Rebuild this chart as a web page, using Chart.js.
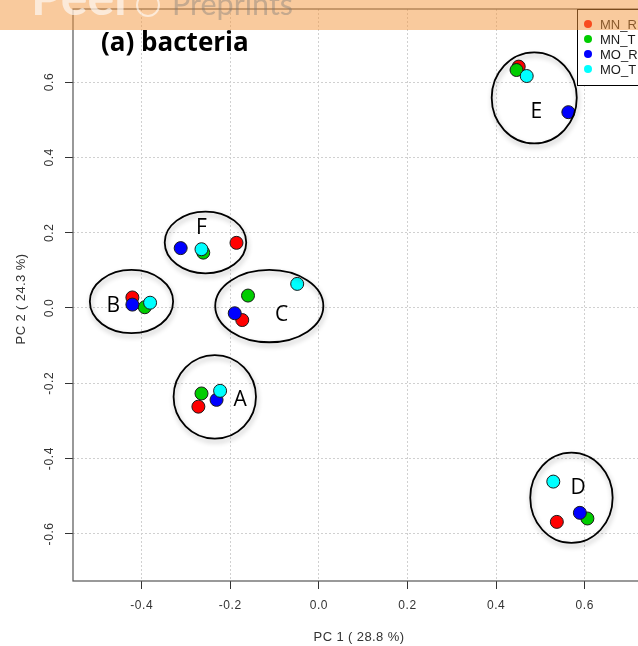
<!DOCTYPE html>
<html>
<head>
<meta charset="utf-8">
<script src="https://cdn.jsdelivr.net/npm/chart.js@4.4.1/dist/chart.umd.min.js"></script>
<style>
  html, body { margin: 0; padding: 0; background: #fff; overflow: hidden; width: 638px; height: 646px; }
  #wrap { position: relative; width: 638px; height: 646px; overflow: hidden; }
  #pca { position: absolute; left: 0; top: 0; }
  #banner { position: absolute; left: 0; top: 0; z-index: 2; }
</style>
</head>
<body>
<div id="wrap">
  <canvas id="pca" width="660" height="646"></canvas>
  <svg id="banner" width="638" height="30" xmlns="http://www.w3.org/2000/svg">
    <rect x="0" y="0" width="638" height="30" fill="rgba(244,150,60,0.5)"/>
    <text x="31" y="15" font-family="Lato, sans-serif" font-weight="700" font-size="50" fill="rgba(255,255,255,0.62)">Peer</text>
    <circle cx="148" cy="5" r="11" fill="none" stroke="rgba(255,255,255,0.6)" stroke-width="2"/>
    <text x="172" y="15" font-family="Lato, sans-serif" font-weight="400" font-size="30.5" fill="rgba(120,120,120,0.4)">Preprints</text>
  </svg>
</div>
<script>
// Sample groups (one point per series in each group)
const groups = ['A', 'B', 'C', 'D', 'E', 'F'];
const seriesNames = ['MN_R', 'MN_T', 'MO_R', 'MO_T'];

// PC1 / PC2 scores, ordered as in `groups`
const pc1_MN_R = [-0.272, -0.421, -0.173, 0.537, 0.451, -0.186];
const pc2_MN_R = [-0.262, 0.028, -0.032, -0.568, 0.641, 0.173];
const pc1_MN_T = [-0.265, -0.393, -0.160, 0.606, 0.446, -0.261];
const pc2_MN_T = [-0.227, 0.002, 0.033, -0.559, 0.632, 0.147];
const pc1_MO_R = [-0.231, -0.421, -0.190, 0.589, 0.563, -0.312];
const pc2_MO_R = [-0.244, 0.009, -0.014, -0.544, 0.520, 0.159];
const pc1_MO_T = [-0.223, -0.381, -0.049, 0.529, 0.469, -0.265];
const pc2_MO_T = [-0.220, 0.014, 0.064, -0.461, 0.616, 0.156];

// Axis tick values and titles
const xTicks = [-0.4, -0.2, 0.0, 0.2, 0.4, 0.6];
const yTicks = [-0.6, -0.4, -0.2, 0.0, 0.2, 0.4, 0.6];
const xTitle = 'PC 1 ( 28.8 %)';
const yTitle = 'PC 2 ( 24.3 %)';
const panelTitle = '(a) bacteria';

// Series colours (R default palette 2..5)
const seriesColors = ['#FF0000', '#00CD00', '#0000FF', '#00FFFF'];

// Group outlines: ellipse centre / radii and letter position, in data units
const groupOutlines = [
  { name: 'A', cx: -0.235, cy: -0.236, rx: 0.093, ry: 0.111, lx: -0.178, ly: -0.244 },
  { name: 'B', cx: -0.423, cy: 0.017, rx: 0.094, ry: 0.084, lx: -0.464, ly: 0.004 },
  { name: 'C', cx: -0.112, cy: 0.005, rx: 0.122, ry: 0.096, lx: -0.084, ly: -0.019 },
  { name: 'D', cx: 0.570, cy: -0.504, rx: 0.093, ry: 0.120, lx: 0.585, ly: -0.477 },
  { name: 'E', cx: 0.486, cy: 0.558, rx: 0.096, ry: 0.121, lx: 0.491, ly: 0.521 },
  { name: 'F', cx: -0.256, cy: 0.174, rx: 0.092, ry: 0.082, lx: -0.265, ly: 0.212 }
];

const pcScores = {
  MN_R: [pc1_MN_R, pc2_MN_R],
  MN_T: [pc1_MN_T, pc2_MN_T],
  MO_R: [pc1_MO_R, pc2_MO_R],
  MO_T: [pc1_MO_T, pc2_MO_T]
};

// later series are painted over earlier ones
const datasets = seriesNames.map((name, i) => ({
  label: name,
  data: groups.map((g, k) => ({ x: pcScores[name][0][k], y: pcScores[name][1][k] })),
  backgroundColor: seriesColors[i],
  borderColor: '#1a1a1a',
  borderWidth: 1,
  pointRadius: 6.5,
  pointHoverRadius: 6.5,
  order: seriesNames.length - i
}));

const fmt = v => v.toFixed(1);

// R-like frame, tick labels, titles, legend and group outlines
const rDecor = {
  id: 'rDecor',
  afterDatasetsDraw(chart) {
    const ctx = chart.ctx;
    const xs = chart.scales.x, ys = chart.scales.y;
    ctx.save();
    groupOutlines.forEach(g => {
      const cx = xs.getPixelForValue(g.cx), cy = ys.getPixelForValue(g.cy);
      const rx = Math.abs(xs.getPixelForValue(g.cx + g.rx) - cx);
      const ry = Math.abs(ys.getPixelForValue(g.cy + g.ry) - cy);
      ctx.save();
      ctx.shadowColor = 'rgba(0,0,0,0.3)';
      ctx.shadowBlur = 5;
      ctx.shadowOffsetX = 1;
      ctx.shadowOffsetY = 3;
      ctx.strokeStyle = '#000';
      ctx.lineWidth = 1.8;
      ctx.beginPath();
      ctx.ellipse(cx, cy, rx, ry, 0, 0, Math.PI * 2);
      ctx.stroke();
      ctx.restore();
      ctx.fillStyle = '#000';
      ctx.font = '21px "Open Sans", sans-serif';
      ctx.textAlign = 'center';
      ctx.textBaseline = 'middle';
      ctx.fillText(g.name, xs.getPixelForValue(g.lx), ys.getPixelForValue(g.ly));
    });
    ctx.restore();
  },
  afterDraw(chart) {
    const ctx = chart.ctx;
    const a = chart.chartArea;
    const xs = chart.scales.x, ys = chart.scales.y;
    ctx.save();
    // plot frame
    ctx.strokeStyle = '#555';
    ctx.lineWidth = 1.2;
    ctx.strokeRect(a.left, a.top, a.right - a.left, a.bottom - a.top);

    // tick labels
    ctx.fillStyle = '#333';
    ctx.font = '12px "Liberation Sans", Arial, sans-serif';
    ctx.letterSpacing = '0.6px';
    ctx.textAlign = 'center';
    ctx.textBaseline = 'middle';
    xs.ticks.forEach(t => ctx.fillText(fmt(t.value), xs.getPixelForValue(t.value), 606));
    ys.ticks.forEach(t => {
      ctx.save();
      ctx.translate(50, ys.getPixelForValue(t.value));
      ctx.rotate(-Math.PI / 2);
      ctx.fillText(fmt(t.value), 0, 0);
      ctx.restore();
    });

    // axis titles
    ctx.font = '13px "Liberation Sans", Arial, sans-serif';
    ctx.letterSpacing = '0.4px';
    ctx.fillText(xTitle, (a.left + a.right) / 2, 637);
    ctx.save();
    ctx.translate(21, (a.top + a.bottom) / 2 + 4);
    ctx.rotate(-Math.PI / 2);
    ctx.fillText(yTitle, 0, 0);
    ctx.restore();
    ctx.letterSpacing = '0px';

    // legend (top right, inside the frame)
    const lx = 577, ly = 9, rowH = 15;
    const n = chart.data.datasets.length;
    ctx.fillStyle = '#fff';
    ctx.fillRect(lx, ly, a.right - lx, rowH * n + 16);
    ctx.strokeStyle = '#000';
    ctx.lineWidth = 1;
    ctx.strokeRect(lx + 0.5, ly + 0.5, a.right - lx, rowH * n + 16);
    ctx.font = '13px "Liberation Sans", Arial, sans-serif';
    ctx.textAlign = 'left';
    chart.data.datasets.forEach((ds, i) => {
      const y = ly + 15 + i * rowH;
      ctx.fillStyle = ds.backgroundColor;
      ctx.beginPath();
      ctx.arc(588, y, 4, 0, Math.PI * 2);
      ctx.fill();
      ctx.fillStyle = '#1a1a1a';
      ctx.fillText(ds.label, 600, y + 1);
    });

    // panel title
    ctx.fillStyle = '#000';
    ctx.font = 'bold 26px "Open Sans", sans-serif';
    ctx.textAlign = 'left';
    ctx.textBaseline = 'alphabetic';
    ctx.fillText(panelTitle, 101, 51);
    ctx.restore();
  }
};

const gridStyle = {
  color: '#d0d0d0',
  lineWidth: 1,
  drawTicks: true,
  tickLength: 8,
  tickColor: '#333',
  tickWidth: 1,
  tickBorderDash: []
};

new Chart(document.getElementById('pca'), {
  type: 'scatter',
  data: { datasets },
  options: {
    responsive: false,
    animation: false,
    devicePixelRatio: 1,
    layout: { padding: { top: 9, right: 15, left: 0, bottom: 0 } },
    plugins: { legend: { display: false }, tooltip: { enabled: false } },
    events: [],
    scales: {
      x: {
        type: 'linear',
        position: 'bottom',
        min: -0.555,
        max: 0.736,
        afterBuildTicks: s => { s.ticks = xTicks.map(v => ({ value: v })); },
        afterFit: s => { s.height = 65; },
        ticks: { display: false },
        grid: gridStyle,
        border: { display: false, dash: [2, 2] }
      },
      y: {
        type: 'linear',
        position: 'left',
        min: -0.725,
        max: 0.794,
        afterBuildTicks: s => { s.ticks = yTicks.map(v => ({ value: v })); },
        afterFit: s => { s.width = 73; },
        ticks: { display: false },
        grid: gridStyle,
        border: { display: false, dash: [2, 2] }
      }
    }
  },
  plugins: [rDecor]
});
</script>
</body>
</html>
